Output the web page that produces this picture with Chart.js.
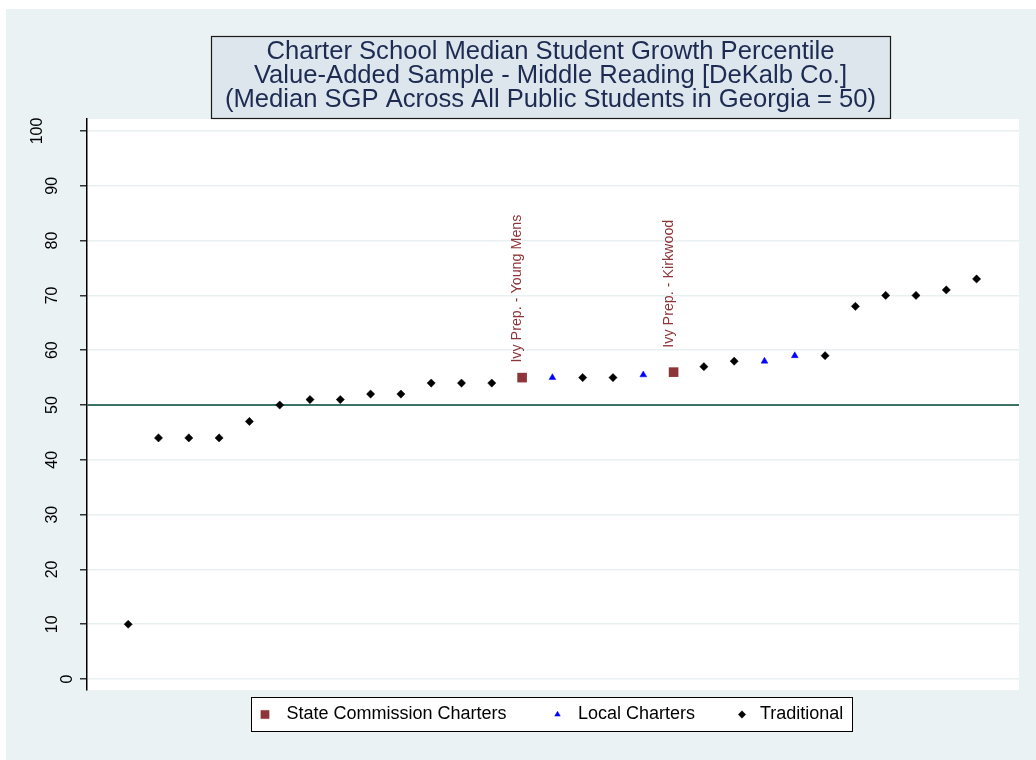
<!DOCTYPE html>
<html>
<head>
<meta charset="utf-8">
<script src="https://cdn.jsdelivr.net/npm/chart.js@4/dist/chart.umd.min.js"></script>
<style>
html,body{margin:0;padding:0;background:#ffffff;}
#wrap{width:1036px;height:760px;position:relative;}
</style>
</head>
<body>
<div id="wrap"><canvas id="c" width="1036" height="760"></canvas></div>
<script>
// ---------------- data ----------------
const titleLines = [
  "Charter School Median Student Growth Percentile",
  "Value-Added Sample - Middle Reading [DeKalb Co.]",
  "(Median SGP Across All Public Students in Georgia = 50)"
];
const seriesNames = ["State Commission Charters", "Local Charters", "Traditional"];

const stateX = [14, 19];
const stateY = [55, 56];
const stateLabels = ["Ivy Prep. - Young Mens", "Ivy Prep. - Kirkwood"];

const localX = [15, 18, 22, 23];
const localY = [55, 55.5, 58, 59];

const tradX = [1, 2, 3, 4, 5, 6, 7, 8, 9, 10, 11, 12, 13, 16, 17, 20, 21, 24, 25, 26, 27, 28, 29];
const tradY = [10, 44, 44, 44, 47, 50, 51, 51, 52, 52, 54, 54, 54, 55, 55, 57, 58, 59, 68, 70, 70, 71, 73];

const yTicks = [0, 10, 20, 30, 40, 50, 60, 70, 80, 90, 100];
const referenceY = 50;

// ---------------- helpers ----------------
const FONT = '"Liberation Sans", Arial, Helvetica, sans-serif';
const X_MIN = -0.36, X_MAX = 30.4;
const Y_MIN = -2, Y_MAX = 102.19;
const COL_STATE = '#8e3539';
const COL_LOCAL = '#0000ff';
const COL_TRAD = '#000000';

const toPts = (xs, ys) => xs.map((x, i) => ({x: x, y: ys[i]}));

const bgPlugin = {
  id: 'bgPlugin',
  beforeDraw(chart) {
    const {ctx, chartArea: a} = chart;
    ctx.save();
    ctx.fillStyle = '#ffffff';
    ctx.fillRect(0, 0, chart.width, chart.height);
    ctx.fillStyle = '#eaf2f3';
    ctx.fillRect(6, 9, chart.width - 6, chart.height - 9);
    ctx.fillStyle = '#ffffff';
    ctx.fillRect(a.left, a.top, a.right - a.left, a.bottom - a.top);
    ctx.restore();
  }
};

const decorPlugin = {
  id: 'decorPlugin',
  afterDraw(chart, args, opts) {
    const ctx = chart.ctx;
    ctx.save();

    // ---- title box ----
    ctx.fillStyle = '#dce6ec';
    ctx.fillRect(211, 36, 679, 82);
    ctx.strokeStyle = '#1a1a1a';
    ctx.lineWidth = 1.2;
    ctx.strokeRect(211.5, 36.5, 679, 82);
    ctx.fillStyle = '#1d2b52';
    ctx.font = '26px ' + FONT;
    ctx.textAlign = 'center';
    ctx.textBaseline = 'middle';
    titleLines.forEach((t, i) => {
      ctx.save();
      ctx.translate(550.5, 52 + i * 24);
      ctx.scale(0.985, 1);
      ctx.fillText(t, 0, 0);
      ctx.restore();
    });

    // ---- y tick labels (rotated, Stata style) ----
    const ys = chart.scales.y;
    ctx.fillStyle = '#000000';
    ctx.font = '16px ' + FONT;
    ctx.textAlign = 'center';
    ctx.textBaseline = 'alphabetic';
    const capH = 16 * 0.716;
    yTicks.forEach(v => {
      const s = String(v);
      const py = ys.getPixelForValue(v);
      const cx = 81 - 15 * s.length;
      ctx.save();
      ctx.translate(cx + capH / 2, py);
      ctx.rotate(-Math.PI / 2);
      ctx.fillText(s, 0, 0);
      ctx.restore();
    });

    // ---- point labels for state commission charters ----
    const meta = chart.getDatasetMeta(1);
    ctx.fillStyle = COL_STATE;
    ctx.font = '14.3px ' + FONT;
    ctx.textAlign = 'left';
    ctx.textBaseline = 'alphabetic';
    meta.data.forEach((el, i) => {
      ctx.save();
      ctx.translate(el.x - 1, el.y - opts.labelGaps[i]);
      ctx.rotate(-Math.PI / 2);
      ctx.fillText(stateLabels[i], 0, 0);
      ctx.restore();
    });

    // ---- legend ----
    ctx.fillStyle = '#ffffff';
    ctx.fillRect(251, 697, 601, 34);
    ctx.strokeStyle = '#000000';
    ctx.lineWidth = 1;
    ctx.strokeRect(251.5, 697.5, 601, 34);
    const ly = 714.5;
    const items = [
      {style: 'rect', r: 5.8, color: COL_STATE, mx: 265, tx: 286.5},
      {style: 'triangle', r: 3.2, color: COL_LOCAL, mx: 557.5, tx: 578},
      {style: 'rectRot', r: 3.7, color: COL_TRAD, mx: 742, tx: 760}
    ];
    items.forEach((it, i) => {
      ctx.fillStyle = it.color;
      ctx.strokeStyle = it.color;
      ctx.lineWidth = 0.5;
      Chart.helpers.drawPoint(ctx, {pointStyle: it.style, radius: it.r, rotation: 0, borderWidth: 0.5}, it.mx, ly);
      ctx.fillStyle = '#000000';
      ctx.font = '18px ' + FONT;
      ctx.textAlign = 'left';
      ctx.textBaseline = 'middle';
      ctx.fillText(seriesNames[i], it.tx, ly);
    });

    ctx.restore();
  }
};

const ctx = document.getElementById('c').getContext('2d');
new Chart(ctx, {
  type: 'scatter',
  data: {
    datasets: [
      {
        type: 'line',
        label: 'Georgia median',
        data: [{x: X_MIN, y: referenceY}, {x: X_MAX, y: referenceY}],
        borderColor: '#3a7366',
        borderWidth: 2,
        pointRadius: 0,
        fill: false,
        order: 10
      },
      {
        label: seriesNames[0],
        data: toPts(stateX, stateY),
        pointStyle: 'rect',
        pointRadius: 6.8,
        backgroundColor: COL_STATE,
        borderColor: COL_STATE,
        borderWidth: 0,
        order: 1
      },
      {
        label: seriesNames[1],
        data: toPts(localX, localY),
        pointStyle: 'triangle',
        pointRadius: 3.9,
        backgroundColor: COL_LOCAL,
        borderColor: COL_LOCAL,
        borderWidth: 0.5,
        order: 2
      },
      {
        label: seriesNames[2],
        data: toPts(tradX, tradY),
        pointStyle: 'rectRot',
        pointRadius: 4.1,
        backgroundColor: COL_TRAD,
        borderColor: COL_TRAD,
        borderWidth: 0.5,
        order: 3
      }
    ]
  },
  options: {
    responsive: false,
    animation: false,
    devicePixelRatio: 1,
    layout: {padding: {left: 0, right: 17, top: 119, bottom: 70}},
    plugins: {
      legend: {display: false},
      title: {display: false},
      tooltip: {enabled: false},
      decorPlugin: {labelGaps: [15, 24.5]}
    },
    scales: {
      x: {
        type: 'linear',
        min: X_MIN,
        max: X_MAX,
        display: false
      },
      y: {
        type: 'linear',
        min: Y_MIN,
        max: Y_MAX,
        afterBuildTicks: s => { s.ticks = yTicks.map(v => ({value: v})); },
        afterFit: s => { s.width = 87; },
        ticks: {display: false},
        grid: {
          color: '#e8f0f2',
          lineWidth: 1.6,
          drawTicks: true,
          tickLength: 7,
          tickColor: '#000000',
          tickWidth: 1.2
        },
        border: {display: true, color: '#000000', width: 1.5}
      }
    }
  },
  plugins: [bgPlugin, decorPlugin]
});
</script>
</body>
</html>
